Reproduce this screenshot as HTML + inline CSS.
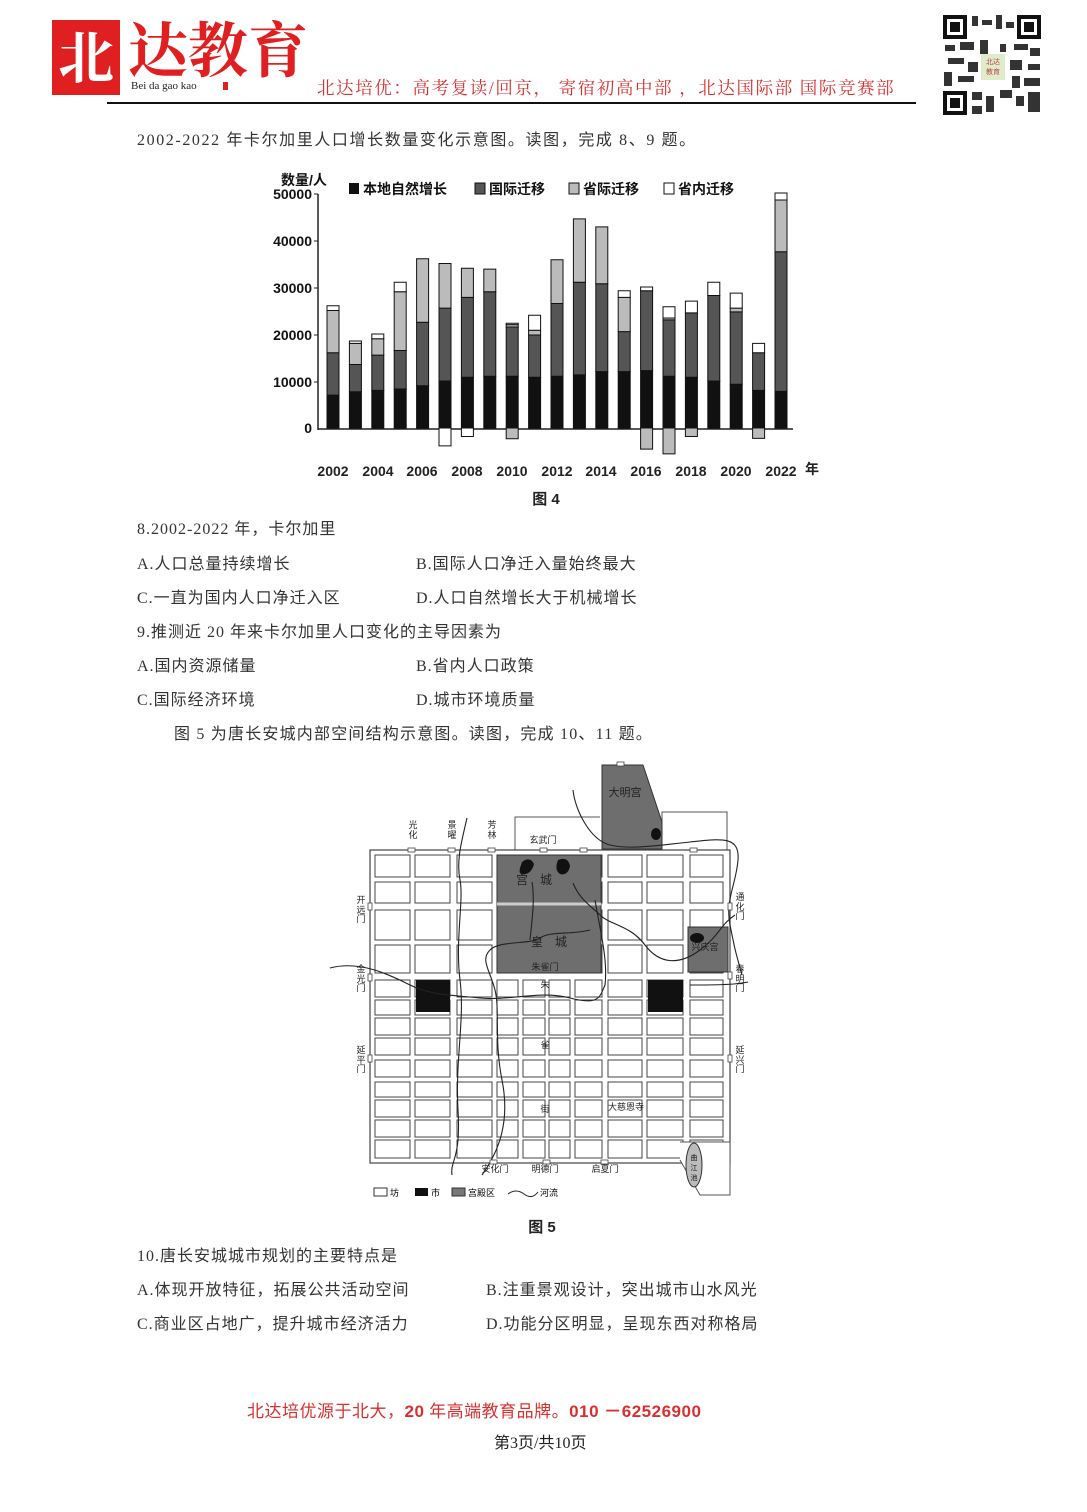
<!DOCTYPE html>
<html><head><meta charset="utf-8">
<style>
body{margin:0;background:#fff;}
#p{position:relative;width:1087px;height:1512px;overflow:hidden;font-family:"Liberation Serif","Noto Sans CJK SC",sans-serif;color:#333;}
.t{position:absolute;font-size:16px;white-space:nowrap;line-height:20px;letter-spacing:1px;}
svg{position:absolute;left:0;top:0;}
</style></head><body><div id="p">
<svg width="1087" height="1512" viewBox="0 0 1087 1512" font-family="'Liberation Sans','Noto Sans CJK SC',sans-serif">
<!-- logo -->
<rect x="52" y="20" width="68" height="75" fill="#e02020"/>
<text x="86" y="78" font-size="56" fill="#fff" text-anchor="middle" font-family="'Noto Serif CJK SC',serif" font-weight="bold">北</text>
<text x="128" y="72" font-size="60" fill="#e02020" font-family="'Noto Serif CJK SC',serif" font-weight="bold">达教育</text>
<text x="131" y="89" font-size="11" fill="#222" font-family="'Liberation Serif',serif">Bei da gao kao</text>
<rect x="223" y="82" width="5" height="8" fill="#e02020"/>
<text x="317" y="94" font-size="17.5" letter-spacing="1.6" fill="#d83030" font-family="'Liberation Serif','Noto Serif CJK SC',serif">北达培优：高考复读/回京， 寄宿初高中部 ，北达国际部 国际竞赛部</text>
<line x1="107" y1="103" x2="916" y2="103" stroke="#111" stroke-width="2"/>
<!-- QR -->
<rect x="942" y="14" width="100" height="102" fill="#fff"/>
<g fill="#111">
<rect x="943" y="15" width="24" height="24"/><rect x="1017" y="15" width="24" height="24"/><rect x="943" y="91" width="24" height="24"/>
</g>
<g fill="#fff"><rect x="947" y="19" width="16" height="16"/><rect x="1021" y="19" width="16" height="16"/><rect x="947" y="95" width="16" height="16"/></g>
<g fill="#111"><rect x="950" y="22" width="10" height="10"/><rect x="1024" y="22" width="10" height="10"/><rect x="950" y="98" width="10" height="10"/></g>
<g fill="#333">
<rect x="972" y="16" width="6" height="10"/><rect x="982" y="20" width="10" height="5"/><rect x="996" y="15" width="6" height="14"/><rect x="1006" y="22" width="8" height="6"/>
<rect x="945" y="45" width="10" height="6"/><rect x="960" y="42" width="14" height="8"/><rect x="980" y="40" width="8" height="14"/><rect x="1000" y="44" width="6" height="8"/><rect x="1014" y="44" width="14" height="6"/><rect x="1030" y="48" width="10" height="8"/>
<rect x="948" y="58" width="16" height="6"/><rect x="968" y="62" width="10" height="10"/><rect x="1010" y="60" width="12" height="10"/><rect x="1028" y="64" width="12" height="6"/>
<rect x="944" y="72" width="8" height="14"/><rect x="958" y="76" width="16" height="6"/><rect x="1012" y="76" width="8" height="12"/><rect x="1024" y="78" width="16" height="8"/>
<rect x="972" y="92" width="10" height="8"/><rect x="986" y="96" width="8" height="16"/><rect x="1000" y="90" width="12" height="8"/><rect x="1016" y="96" width="8" height="10"/><rect x="1028" y="92" width="12" height="20"/><rect x="972" y="106" width="10" height="8"/>
</g>
<rect x="981" y="54" width="24" height="26" fill="#dfeccc"/>
<text x="993" y="64" font-size="7" fill="#b44" text-anchor="middle">北达</text><text x="993" y="74" font-size="7" fill="#b44" text-anchor="middle">教育</text>

<!-- CHART -->
<g font-family="'Liberation Sans','Noto Sans CJK SC',sans-serif" fill="#111">
<text x="281" y="185" font-size="14" font-weight="bold">数量/人</text>
<g font-size="14" text-anchor="end" font-weight="bold">
<text x="312" y="199">50000</text><text x="312" y="246">40000</text><text x="312" y="293">30000</text><text x="312" y="340">20000</text><text x="312" y="387">10000</text><text x="312" y="433">0</text>
</g>
<rect x="349" y="183" width="10" height="11"/><text x="363" y="194" font-size="14" font-weight="bold">本地自然增长</text>
<rect x="475" y="183" width="10" height="11" fill="#555" stroke="#111"/><text x="489" y="194" font-size="14" font-weight="bold">国际迁移</text>
<rect x="569" y="183" width="10" height="11" fill="#bbb" stroke="#111"/><text x="583" y="194" font-size="14" font-weight="bold">省际迁移</text>
<rect x="664" y="183" width="10" height="11" fill="#fff" stroke="#111"/><text x="678" y="194" font-size="14" font-weight="bold">省内迁移</text>
</g>
<line x1="318" y1="194" x2="318" y2="430" stroke="#222" stroke-width="1.5"/>
<line x1="318" y1="429" x2="793" y2="429" stroke="#222" stroke-width="1.5"/>
<g stroke="#222"><line x1="314" y1="194" x2="318" y2="194"/><line x1="314" y1="241" x2="318" y2="241"/><line x1="314" y1="288" x2="318" y2="288"/><line x1="314" y1="335" x2="318" y2="335"/><line x1="314" y1="382" x2="318" y2="382"/></g>
<g transform="translate(0,428) scale(1,-0.0047)" stroke="#111" stroke-width="1">
<g fill="#111">
<rect vector-effect="non-scaling-stroke" x="327" y="0" width="12" height="7000"/>
<rect vector-effect="non-scaling-stroke" x="349.4" y="0" width="12" height="7700"/>
<rect vector-effect="non-scaling-stroke" x="371.8" y="0" width="12" height="8000"/>
<rect vector-effect="non-scaling-stroke" x="394.2" y="0" width="12" height="8300"/>
<rect vector-effect="non-scaling-stroke" x="416.6" y="0" width="12" height="9000"/>
<rect vector-effect="non-scaling-stroke" x="439" y="0" width="12" height="10000"/>
<rect vector-effect="non-scaling-stroke" x="461.4" y="0" width="12" height="10800"/>
<rect vector-effect="non-scaling-stroke" x="483.8" y="0" width="12" height="11000"/>
<rect vector-effect="non-scaling-stroke" x="506.2" y="0" width="12" height="11000"/>
<rect vector-effect="non-scaling-stroke" x="528.6" y="0" width="12" height="10800"/>
<rect vector-effect="non-scaling-stroke" x="551" y="0" width="12" height="11000"/>
<rect vector-effect="non-scaling-stroke" x="573.4" y="0" width="12" height="11300"/>
<rect vector-effect="non-scaling-stroke" x="595.8" y="0" width="12" height="12000"/>
<rect vector-effect="non-scaling-stroke" x="618.2" y="0" width="12" height="12000"/>
<rect vector-effect="non-scaling-stroke" x="640.6" y="0" width="12" height="12200"/>
<rect vector-effect="non-scaling-stroke" x="663" y="0" width="12" height="11000"/>
<rect vector-effect="non-scaling-stroke" x="685.4" y="0" width="12" height="10800"/>
<rect vector-effect="non-scaling-stroke" x="707.8" y="0" width="12" height="10000"/>
<rect vector-effect="non-scaling-stroke" x="730.2" y="0" width="12" height="9300"/>
<rect vector-effect="non-scaling-stroke" x="752.6" y="0" width="12" height="8000"/>
<rect vector-effect="non-scaling-stroke" x="775" y="0" width="12" height="7800"/>
</g>
<g fill="#555">
<rect vector-effect="non-scaling-stroke" x="327" y="7000" width="12" height="9000"/>
<rect vector-effect="non-scaling-stroke" x="349.4" y="7700" width="12" height="5800"/>
<rect vector-effect="non-scaling-stroke" x="371.8" y="8000" width="12" height="7500"/>
<rect vector-effect="non-scaling-stroke" x="394.2" y="8300" width="12" height="8200"/>
<rect vector-effect="non-scaling-stroke" x="416.6" y="9000" width="12" height="13500"/>
<rect vector-effect="non-scaling-stroke" x="439" y="10000" width="12" height="15500"/>
<rect vector-effect="non-scaling-stroke" x="461.4" y="10800" width="12" height="17000"/>
<rect vector-effect="non-scaling-stroke" x="483.8" y="11000" width="12" height="18000"/>
<rect vector-effect="non-scaling-stroke" x="506.2" y="11000" width="12" height="10500"/>
<rect vector-effect="non-scaling-stroke" x="528.6" y="10800" width="12" height="9000"/>
<rect vector-effect="non-scaling-stroke" x="551" y="11000" width="12" height="15500"/>
<rect vector-effect="non-scaling-stroke" x="573.4" y="11300" width="12" height="19700"/>
<rect vector-effect="non-scaling-stroke" x="595.8" y="12000" width="12" height="18700"/>
<rect vector-effect="non-scaling-stroke" x="618.2" y="12000" width="12" height="8500"/>
<rect vector-effect="non-scaling-stroke" x="640.6" y="12200" width="12" height="17000"/>
<rect vector-effect="non-scaling-stroke" x="663" y="11000" width="12" height="12000"/>
<rect vector-effect="non-scaling-stroke" x="685.4" y="10800" width="12" height="13700"/>
<rect vector-effect="non-scaling-stroke" x="707.8" y="10000" width="12" height="18200"/>
<rect vector-effect="non-scaling-stroke" x="730.2" y="9300" width="12" height="15400"/>
<rect vector-effect="non-scaling-stroke" x="752.6" y="8000" width="12" height="8000"/>
<rect vector-effect="non-scaling-stroke" x="775" y="7800" width="12" height="29700"/>
</g>
<g fill="#bbb">
<rect vector-effect="non-scaling-stroke" x="327" y="16000" width="12" height="9000"/>
<rect vector-effect="non-scaling-stroke" x="349.4" y="13500" width="12" height="4500"/>
<rect vector-effect="non-scaling-stroke" x="371.8" y="15500" width="12" height="3500"/>
<rect vector-effect="non-scaling-stroke" x="394.2" y="16500" width="12" height="12500"/>
<rect vector-effect="non-scaling-stroke" x="416.6" y="22500" width="12" height="13500"/>
<rect vector-effect="non-scaling-stroke" x="439" y="25500" width="12" height="9500"/>
<rect vector-effect="non-scaling-stroke" x="461.4" y="27800" width="12" height="6200"/>
<rect vector-effect="non-scaling-stroke" x="483.8" y="29000" width="12" height="4800"/>
<rect vector-effect="non-scaling-stroke" x="506.2" y="21500" width="12" height="500"/>
<rect vector-effect="non-scaling-stroke" x="528.6" y="19800" width="12" height="1000"/>
<rect vector-effect="non-scaling-stroke" x="551" y="26500" width="12" height="9300"/>
<rect vector-effect="non-scaling-stroke" x="573.4" y="31000" width="12" height="13500"/>
<rect vector-effect="non-scaling-stroke" x="595.8" y="30700" width="12" height="12100"/>
<rect vector-effect="non-scaling-stroke" x="618.2" y="20500" width="12" height="7300"/>
<rect vector-effect="non-scaling-stroke" x="663" y="23000" width="12" height="400"/>
<rect vector-effect="non-scaling-stroke" x="730.2" y="24700" width="12" height="800"/>
<rect vector-effect="non-scaling-stroke" x="775" y="37500" width="12" height="11000"/>
<rect vector-effect="non-scaling-stroke" x="506.2" y="-2300" width="12" height="2300"/>
<rect vector-effect="non-scaling-stroke" x="640.6" y="-4500" width="12" height="4500"/>
<rect vector-effect="non-scaling-stroke" x="663" y="-5500" width="12" height="5500"/>
<rect vector-effect="non-scaling-stroke" x="685.4" y="-1800" width="12" height="1800"/>
<rect vector-effect="non-scaling-stroke" x="752.6" y="-2200" width="12" height="2200"/>
</g>
<g fill="#fff">
<rect vector-effect="non-scaling-stroke" x="327" y="25000" width="12" height="1000"/>
<rect vector-effect="non-scaling-stroke" x="349.4" y="18000" width="12" height="500"/>
<rect vector-effect="non-scaling-stroke" x="371.8" y="19000" width="12" height="1000"/>
<rect vector-effect="non-scaling-stroke" x="394.2" y="29000" width="12" height="2000"/>
<rect vector-effect="non-scaling-stroke" x="506.2" y="22000" width="12" height="300"/>
<rect vector-effect="non-scaling-stroke" x="528.6" y="20800" width="12" height="3200"/>
<rect vector-effect="non-scaling-stroke" x="618.2" y="27800" width="12" height="1400"/>
<rect vector-effect="non-scaling-stroke" x="640.6" y="29200" width="12" height="800"/>
<rect vector-effect="non-scaling-stroke" x="663" y="23400" width="12" height="2400"/>
<rect vector-effect="non-scaling-stroke" x="685.4" y="24500" width="12" height="2500"/>
<rect vector-effect="non-scaling-stroke" x="707.8" y="28200" width="12" height="2800"/>
<rect vector-effect="non-scaling-stroke" x="730.2" y="25500" width="12" height="3200"/>
<rect vector-effect="non-scaling-stroke" x="752.6" y="16000" width="12" height="2000"/>
<rect vector-effect="non-scaling-stroke" x="775" y="48500" width="12" height="1500"/>
<rect vector-effect="non-scaling-stroke" x="439" y="-3800" width="12" height="3800"/>
<rect vector-effect="non-scaling-stroke" x="461.4" y="-1800" width="12" height="1800"/>
</g>
</g>
<g font-size="14" font-weight="bold" fill="#222" text-anchor="middle">
<text x="333" y="476">2002</text><text x="378" y="476">2004</text><text x="422" y="476">2006</text><text x="467" y="476">2008</text><text x="512" y="476">2010</text><text x="557" y="476">2012</text><text x="601" y="476">2014</text><text x="646" y="476">2016</text><text x="691" y="476">2018</text><text x="736" y="476">2020</text><text x="781" y="476">2022</text><text x="812" y="474">年</text>
<text x="546" y="504" font-size="15">图 4</text>
</g>

<!-- MAP -->
<defs>
<g id="row" stroke="#444" fill="#fff">
<rect vector-effect="non-scaling-stroke" x="375" y="0" width="35" height="1"/>
<rect vector-effect="non-scaling-stroke" x="415" y="0" width="35" height="1"/>
<rect vector-effect="non-scaling-stroke" x="457" y="0" width="35" height="1"/>
<rect vector-effect="non-scaling-stroke" x="497" y="0" width="21" height="1"/>
<rect vector-effect="non-scaling-stroke" x="523" y="0" width="22" height="1"/>
<rect vector-effect="non-scaling-stroke" x="549" y="0" width="21" height="1"/>
<rect vector-effect="non-scaling-stroke" x="575" y="0" width="27" height="1"/>
<rect vector-effect="non-scaling-stroke" x="608" y="0" width="34" height="1"/>
<rect vector-effect="non-scaling-stroke" x="647" y="0" width="36" height="1"/>
<rect vector-effect="non-scaling-stroke" x="690" y="0" width="33" height="1"/>
</g>
</defs>
<polyline points="515,850 515,817 600,817" fill="none" stroke="#555"/>
<polyline points="662,850 662,812 727,812 727,850" fill="none" stroke="#555"/>
<rect x="370" y="850" width="360" height="313" fill="#fff" stroke="#444" stroke-width="1.2"/>
<use href="#row" transform="translate(0,855) scale(1,22)"/>
<use href="#row" transform="translate(0,882) scale(1,21)"/>
<use href="#row" transform="translate(0,910) scale(1,30)"/>
<use href="#row" transform="translate(0,945) scale(1,28)"/>
<use href="#row" transform="translate(0,980) scale(1,17)"/>
<use href="#row" transform="translate(0,1000) scale(1,15)"/>
<use href="#row" transform="translate(0,1018) scale(1,17)"/>
<use href="#row" transform="translate(0,1038) scale(1,17)"/>
<use href="#row" transform="translate(0,1060) scale(1,17)"/>
<use href="#row" transform="translate(0,1082) scale(1,15)"/>
<use href="#row" transform="translate(0,1100) scale(1,17)"/>
<use href="#row" transform="translate(0,1120) scale(1,17)"/>
<use href="#row" transform="translate(0,1140) scale(1,18)"/>
<rect x="497" y="855" width="104" height="118" fill="#6e6e6e" stroke="#333"/>
<line x1="497" y1="904" x2="601" y2="904" stroke="#ccc" stroke-width="3"/>
<polygon points="602,765 643,765 662,822 662,849 602,849" fill="#6e6e6e" stroke="#333"/>
<rect x="688" y="927" width="40" height="45" fill="#6e6e6e" stroke="#333"/>
<rect x="416" y="980" width="34" height="32" fill="#111"/>
<rect x="648" y="980" width="35" height="32" fill="#111"/>
<polyline points="680,1142 730,1142 730,1195 700,1195 680,1160" fill="#fff" stroke="#555"/>
<ellipse cx="694" cy="1165" rx="8" ry="22" fill="#bbb" stroke="#333"/>
<text x="694" y="1160" font-size="7" text-anchor="middle" fill="#111">曲</text><text x="694" y="1170" font-size="7" text-anchor="middle" fill="#111">江</text><text x="694" y="1180" font-size="7" text-anchor="middle" fill="#111">池</text>
<path d="M522,862 q8,-6 12,2 q-2,8 -8,10 q-8,2 -6,-6z" fill="#111"/>
<path d="M558,860 q10,-4 12,6 q-2,10 -10,8 q-6,-4 -2,-14z" fill="#111"/>
<ellipse cx="656" cy="834" rx="5" ry="6" fill="#111"/>
<ellipse cx="697" cy="938" rx="7" ry="5" fill="#111"/>
<g fill="none" stroke="#222" stroke-width="1.1">
<path d="M467,818 C462,840 456,860 460,880 S455,940 460,980 S455,1060 458,1110 S450,1160 452,1175"/>
<path d="M330,968 C360,960 390,975 410,985 S450,995 480,998 S540,990 570,998 S600,996 605,985 C608,960 600,930 595,900"/>
<path d="M482,1175 C500,1150 510,1120 502,1080 S500,1010 495,990 S480,960 490,950 S530,945 540,938 S570,935 590,930"/>
<path d="M573,883 C580,900 590,905 600,915 S630,925 645,945 S680,965 700,950 S720,925 735,915"/>
<path d="M573,790 C575,810 590,840 610,845 S660,845 690,842 S740,835 738,860 S725,900 730,925 S735,950 742,975"/>
<path d="M532,882 C535,900 532,920 530,940"/>
<path d="M690,985 C710,985 735,985 748,982"/>
</g>
<g fill="#fff" stroke="#444" stroke-width="0.8">
<rect x="408" y="848" width="7" height="4"/><rect x="448" y="848" width="7" height="4"/><rect x="488" y="848" width="7" height="4"/><rect x="540" y="848" width="7" height="4"/><rect x="580" y="848" width="7" height="4"/><rect x="690" y="848" width="7" height="4"/>
<rect x="368" y="903" width="4" height="7"/><rect x="368" y="974" width="4" height="7"/><rect x="368" y="1055" width="4" height="7"/>
<rect x="728" y="903" width="4" height="7"/><rect x="728" y="972" width="4" height="7"/><rect x="728" y="1055" width="4" height="7"/>
<rect x="490" y="1160" width="7" height="4"/><rect x="543" y="1160" width="7" height="4"/><rect x="601" y="1160" width="7" height="4"/>
<rect x="617" y="762" width="7" height="4"/>
</g>
<g font-size="9" fill="#222" text-anchor="middle">
<text x="625" y="796" font-size="11">大明宫</text>
<text x="543" y="843">玄武门</text>
<text x="534" y="884" font-size="12">宫　城</text>
<text x="549" y="946" font-size="12">皇　城</text>
<text x="545" y="970">朱雀门</text>
<text x="705" y="950">兴庆宫</text>
<text x="545" y="988">朱</text><text x="545" y="1048">雀</text><text x="545" y="1112">街</text>
<text x="626" y="1110">大慈恩寺</text>
<text x="495" y="1172">安化门</text><text x="545" y="1172">明德门</text><text x="605" y="1172">启夏门</text>
<text x="413" y="828">光</text><text x="413" y="838">化</text>
<text x="452" y="828">景</text><text x="452" y="838">曜</text>
<text x="492" y="828">芳</text><text x="492" y="838">林</text>
<text x="361" y="903">开</text><text x="361" y="913">远</text><text x="361" y="922">门</text>
<text x="361" y="972">金</text><text x="361" y="982">光</text><text x="361" y="991">门</text>
<text x="361" y="1053">延</text><text x="361" y="1063">平</text><text x="361" y="1072">门</text>
<text x="740" y="900">通</text><text x="740" y="910">化</text><text x="740" y="919">门</text>
<text x="740" y="972">春</text><text x="740" y="982">明</text><text x="740" y="991">门</text>
<text x="740" y="1053">延</text><text x="740" y="1063">兴</text><text x="740" y="1072">门</text>
</g>
<rect x="374" y="1188" width="13" height="8" fill="#fff" stroke="#333"/><text x="390" y="1196" font-size="9">坊</text>
<rect x="415" y="1188" width="13" height="8" fill="#111"/><text x="431" y="1196" font-size="9">市</text>
<rect x="452" y="1188" width="13" height="8" fill="#777" stroke="#333"/><text x="468" y="1196" font-size="9">宫殿区</text>
<path d="M508,1194 q8,-6 16,0 t14,-2" fill="none" stroke="#222"/><text x="540" y="1196" font-size="9">河流</text>
<text x="542" y="1232" font-size="15" font-weight="bold" text-anchor="middle" fill="#222">图 5</text>
</svg>

<div class="t" style="left:137px;top:131px;letter-spacing:1.6px;">2002-2022 年卡尔加里人口增长数量变化示意图。读图，完成 8、9 题。</div>
<div class="t" style="left:137px;top:520px;">8.2002-2022 年，卡尔加里</div>
<div class="t" style="left:137px;top:555px;">A.人口总量持续增长</div>
<div class="t" style="left:416px;top:555px;">B.国际人口净迁入量始终最大</div>
<div class="t" style="left:137px;top:589px;">C.一直为国内人口净迁入区</div>
<div class="t" style="left:416px;top:589px;">D.人口自然增长大于机械增长</div>
<div class="t" style="left:137px;top:623px;">9.推测近 20 年来卡尔加里人口变化的主导因素为</div>
<div class="t" style="left:137px;top:657px;">A.国内资源储量</div>
<div class="t" style="left:416px;top:657px;">B.省内人口政策</div>
<div class="t" style="left:137px;top:691px;">C.国际经济环境</div>
<div class="t" style="left:416px;top:691px;">D.城市环境质量</div>
<div class="t" style="left:174px;top:725px;letter-spacing:1.2px;">图 5 为唐长安城内部空间结构示意图。读图，完成 10、11 题。</div>
<div class="t" style="left:137px;top:1247px;">10.唐长安城城市规划的主要特点是</div>
<div class="t" style="left:137px;top:1281px;">A.体现开放特征，拓展公共活动空间</div>
<div class="t" style="left:486px;top:1281px;">B.注重景观设计，突出城市山水风光</div>
<div class="t" style="left:137px;top:1315px;">C.商业区占地广，提升城市经济活力</div>
<div class="t" style="left:486px;top:1315px;">D.功能分区明显，呈现东西对称格局</div>
<div class="t" style="left:247px;top:1402px;font-size:17px;color:#d83030;letter-spacing:0.5px;">北达培优源于北大，<b style="font-family:'Liberation Sans',sans-serif">20</b> 年高端教育品牌。<b style="font-family:'Liberation Sans',sans-serif">010 －62526900</b></div>
<div class="t" style="left:494px;top:1434px;font-size:16px;color:#222;letter-spacing:0;">第3页/共10页</div>
</div></body></html>
